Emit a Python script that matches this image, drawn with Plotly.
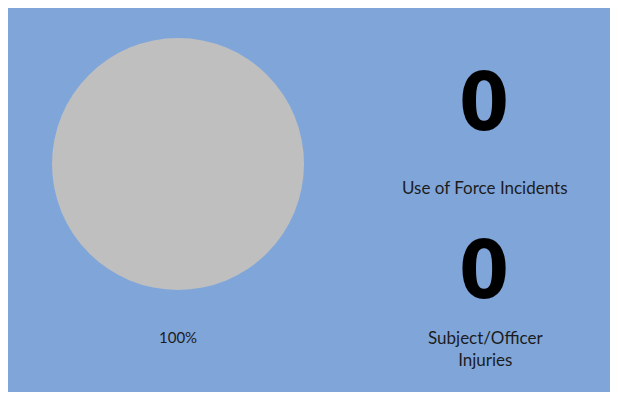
import plotly.graph_objects as go

# page is offset by the body margin (8px); figure coordinates = page coords - 8
OFF = 8
W, H = 618 - OFF, 396 - OFF

# data
pie_labels = ["All"]
pie_values = [100]
pie_text = ["100%"]
kpi_labels = ["Use of Force Incidents", "Subject/Officer<br>Injuries"]
kpi_values = [0, 0]

BG = "#80A6D9"
GRAY = "#BFBFBF"
TXT = "#1C1C1C"
FONT = "Lato"

def px(x):
    return (x - OFF) / W

def py(y):
    return 1 - (y - OFF) / H

fig = go.Figure()
fig.add_trace(go.Pie(
    labels=pie_labels, values=pie_values,
    marker=dict(colors=[GRAY], line=dict(width=0)),
    textinfo="none", hoverinfo="label+percent", sort=False,
    domain=dict(x=[px(52), px(304)], y=[py(290), py(38)]),
    showlegend=False,
))

fig.add_shape(type="rect", xref="paper", yref="paper",
              x0=0, x1=px(612), y0=py(392), y1=1,
              fillcolor=BG, line=dict(width=0), layer="below")

ann = []
ann.append(dict(x=px(178), y=py(337), text=pie_text[0], showarrow=False,
                xref="paper", yref="paper", xanchor="center", yanchor="middle",
                font=dict(family=FONT, size=15, color=TXT)))
num_y = [102, 270]
lab_y = [187, 348]
for v, l, ny, ly in zip(kpi_values, kpi_labels, num_y, lab_y):
    ann.append(dict(x=px(484), y=py(ny), text=f"<b>{v}</b>", showarrow=False,
                    xref="paper", yref="paper", xanchor="center", yanchor="middle",
                    font=dict(family="DejaVu Sans Condensed", size=80, color="#000000")))
    ann.append(dict(x=px(485), y=py(ly), text=l, showarrow=False,
                    xref="paper", yref="paper", xanchor="center", yanchor="middle",
                    font=dict(family=FONT, size=17, color=TXT)))

fig.update_layout(
    width=W, height=H,
    margin=dict(l=0, r=0, t=0, b=0),
    paper_bgcolor="white", plot_bgcolor="white",
    annotations=ann,
)
fig.write_html("out.html")
